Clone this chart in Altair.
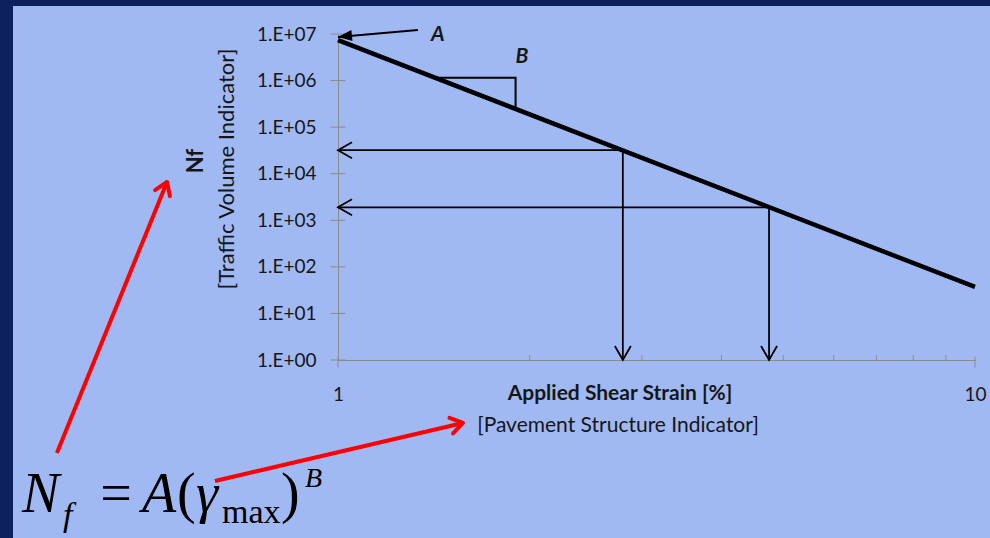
import altair as alt
import pandas as pd

# ---- values -------------------------------------------------------------
# fatigue line end points (log-log straight line)
line_strain = [1.0, 10.0]
line_nf = [7.4e6, 37.0]

# two worked read-outs on the line
read_strain = [2.8, 4.75]
read_nf = [3.2e4, 1.9e3]

# slope triangle corners (B)
tri_strain = [1.42, 1.90, 1.90]
tri_nf = [1.15e6, 1.15e6, 2.46e5]

# intercept pointer (A): tail and tip
a_strain = [1.335, 1.0]
a_nf = [1.22e7, 8.6e6]

# annotation letters
letter_text = ["A", "B"]
letter_strain = [1.435, 1.945]
letter_nf = [9.5e6, 3.2e6]

# red pointers from the formula to the two axis titles: tail -> tip
red_tail_strain = [0.362, 0.641]
red_tail_nf = [0.0101, 0.00252]
red_tip_strain = [0.539, 1.571]
red_tip_nf = [6640.0, 0.0444]
red_angle = [292, 347]

y_ticks = [1, 10, 100, 1e3, 1e4, 1e5, 1e6, 1e7]
x_major = [1, 10]
x_minor = [2, 3, 4, 5, 6, 7, 8, 9]

# ---- styling ------------------------------------------------------------
BG = "#A1B9F3"
NAVY = "#0D1F5C"
GREY = "#8A8A8A"
INK = "#161616"
FONT = "Lato"
SERIF = "Liberation Serif"

xscale = alt.Scale(type="log", domain=[1, 10], nice=False)
yscale = alt.Scale(type="log", domain=[1, 1e7], nice=False)
xaxis = alt.Axis(values=x_major, labelExpr="format(datum.value, 'd')", ticks=False,
                 tickSize=0, grid=False, domainColor=GREY, domainWidth=1,
                 labelPadding=25, labelFont=FONT, labelFontSize=19,
                 labelFlush=False, labelColor=INK, title=None)
yaxis = alt.Axis(values=y_ticks,
                 labelExpr="'1.E+0' + round(log(datum.value) / LN10)",
                 ticks=False, tickSize=0, grid=False, domainColor=GREY,
                 domainWidth=1, labelPadding=22, labelFont=FONT,
                 labelFontSize=19, labelFlush=False, labelColor=INK, title=None)


def X(field):
    return alt.X(field, type="quantitative", scale=xscale, axis=xaxis)


def Y(field):
    return alt.Y(field, type="quantitative", scale=yscale, axis=yaxis)


one = pd.DataFrame({"k": [0]})

# slide frame: dark bands on the top and left edge
frame_left = alt.Chart(one).mark_rect(color=NAVY).encode(
    x=alt.value(-338), x2=alt.value(-325), y=alt.value(-34), y2=alt.value(504))
frame_top = alt.Chart(one).mark_rect(color=NAVY).encode(
    x=alt.value(-338), x2=alt.value(652), y=alt.value(-34), y2=alt.value(-28))

# axis tick marks
ydf = pd.DataFrame({"s": [1.0] * len(y_ticks), "n": y_ticks})
y_tick_marks = alt.Chart(ydf).mark_tick(
    orient="horizontal", size=15, thickness=1, color=GREY, opacity=1
).encode(x=X("s"), y=Y("n"))

xmaj = pd.DataFrame({"s": x_major, "n": [1.0] * len(x_major)})
x_major_marks = alt.Chart(xmaj).mark_tick(
    orient="vertical", size=11, thickness=1, color=GREY, opacity=1, yOffset=2
).encode(x=X("s"), y=Y("n"))

xmin = pd.DataFrame({"s": x_minor, "n": [1.0] * len(x_minor)})
x_minor_marks = alt.Chart(xmin).mark_tick(
    orient="vertical", size=5, thickness=1, color=GREY, opacity=1, yOffset=-2.5
).encode(x=X("s"), y=Y("n"))

# fatigue line
ldf = pd.DataFrame({"s": line_strain, "n": line_nf})
fatigue = alt.Chart(ldf).mark_line(color="black", strokeWidth=4.5).encode(
    x=X("s"), y=Y("n"))

# read-out arrows
rdf = pd.DataFrame({"s": read_strain, "n": read_nf,
                    "s0": [1.0] * len(read_strain), "n0": [1.0] * len(read_nf)})
h_rules = alt.Chart(rdf).mark_rule(color="black", strokeWidth=1.8).encode(
    x=X("s"), x2="s0", y=Y("n"))
v_rules = alt.Chart(rdf).mark_rule(color="black", strokeWidth=1.8).encode(
    x=X("s"), y=Y("n"), y2="n0")

CHEVRON = "M -1.4 -0.8 L 0 0 L -1.4 0.8"
h_heads = alt.Chart(rdf).mark_point(
    shape=CHEVRON, filled=False, size=400, angle=180, strokeWidth=1.8,
    color="black", opacity=1).encode(x=X("s0"), y=Y("n"))
v_heads = alt.Chart(rdf).mark_point(
    shape=CHEVRON, filled=False, size=400, angle=90, strokeWidth=1.8,
    color="black", opacity=1).encode(x=X("s"), y=Y("n0"))

# slope triangle
tdf = pd.DataFrame({"s": tri_strain, "n": tri_nf, "i": list(range(len(tri_strain)))})
triangle = alt.Chart(tdf).mark_line(color="black", strokeWidth=2).encode(
    x=X("s"), y=Y("n"), order="i:Q")

# intercept pointer
adf = pd.DataFrame({"s": [a_strain[0]], "n": [a_nf[0]],
                    "s2": [a_strain[1]], "n2": [a_nf[1]]})
a_rule = alt.Chart(adf).mark_rule(color="black", strokeWidth=2).encode(
    x=X("s"), y=Y("n"), x2="s2", y2="n2")
a_head = alt.Chart(adf).mark_point(
    shape="M 0 0 L -1.4 -0.55 L -1.4 0.55 Z", filled=True, size=400, angle=174,
    color="black", opacity=1).encode(x=X("s2"), y=Y("n2"))

# A and B letters
bdf = pd.DataFrame({"s": letter_strain, "n": letter_nf, "t": letter_text})
letters = alt.Chart(bdf).mark_text(
    font=FONT, fontSize=21, fontWeight="bold", fontStyle="italic",
    color=INK, align="center", baseline="middle").encode(
    x=X("s"), y=Y("n"), text="t:N")

# red pointers
red = pd.DataFrame({"s": red_tail_strain, "n": red_tail_nf,
                    "s2": red_tip_strain, "n2": red_tip_nf, "a": red_angle})
red_rules = alt.Chart(red).mark_rule(color="#FF0000", strokeWidth=4).encode(
    x=X("s"), y=Y("n"), x2="s2", y2="n2")
red_heads = alt.Chart(red).mark_point(
    shape="M -1.2 -0.8 L 0 0 L -1.2 0.8", filled=False, size=400,
    strokeWidth=4, color="#FF0000", opacity=1, strokeJoin="round",
    strokeCap="round").encode(
    x=X("s2"), y=Y("n2"), angle=alt.Angle("a:Q", scale=None))


def label(text, x, y, **kw):
    return alt.Chart(one).mark_text(**kw).encode(
        x=alt.value(x), y=alt.value(y), text=alt.value(text))


titles = [
    label("Nf", -142, 127, font=FONT, fontSize=22, fontWeight="bold",
          angle=270, align="center", baseline="middle", color=INK),
    label("[Traffic Volume Indicator]", -111, 135, font=FONT, fontSize=22,
          angle=270, align="center", baseline="middle", color=INK),
    label("Applied Shear Strain [%]", 282, 366, font=FONT, fontSize=21,
          fontWeight="bold", align="center", baseline="alphabetic", color=INK),
    label("[Pavement Structure Indicator]", 280, 398, font=FONT, fontSize=21,
          align="center", baseline="alphabetic", color=INK),
]

# the power-law formula
formula = [
    label("N", -316, 478, font=SERIF, fontSize=56, fontStyle="italic",
          align="left", baseline="alphabetic", color="black"),
    label("f", -275, 492, font=SERIF, fontSize=34, fontStyle="italic",
          align="left", baseline="alphabetic", color="black"),
    label("=", -222, 478, font=SERIF, fontSize=56, align="center",
          baseline="alphabetic", color="black"),
    label("A", -196, 478, font=SERIF, fontSize=56, fontStyle="italic",
          align="left", baseline="alphabetic", color="black"),
    label("(", -161, 478, font=SERIF, fontSize=56, align="left",
          baseline="alphabetic", color="black"),
    label("\u03b3", -142, 478, font=SERIF, fontSize=56, fontStyle="italic",
          align="left", baseline="alphabetic", color="black"),
    label("max", -116, 489, font=SERIF, fontSize=34, align="left",
          baseline="alphabetic", color="black"),
    label(")", -57, 478, font=SERIF, fontSize=56, align="left",
          baseline="alphabetic", color="black"),
    label("B", -33, 453, font=SERIF, fontSize=28, fontStyle="italic",
          align="left", baseline="alphabetic", color="black"),
]

chart = alt.layer(
    frame_left, frame_top,
    y_tick_marks, x_major_marks, x_minor_marks,
    h_rules, v_rules, h_heads, v_heads,
    triangle, a_rule, a_head, fatigue, letters,
    red_rules, red_heads,
    *titles, *formula,
).properties(
    width=637, height=326,
    autosize=alt.AutoSizeParams(type="none"),
    padding={"left": 338, "top": 34, "right": 15, "bottom": 178},
    background=BG,
).configure_view(stroke=None)

chart.save("out.html", embed_options={"renderer": "svg", "actions": False})
